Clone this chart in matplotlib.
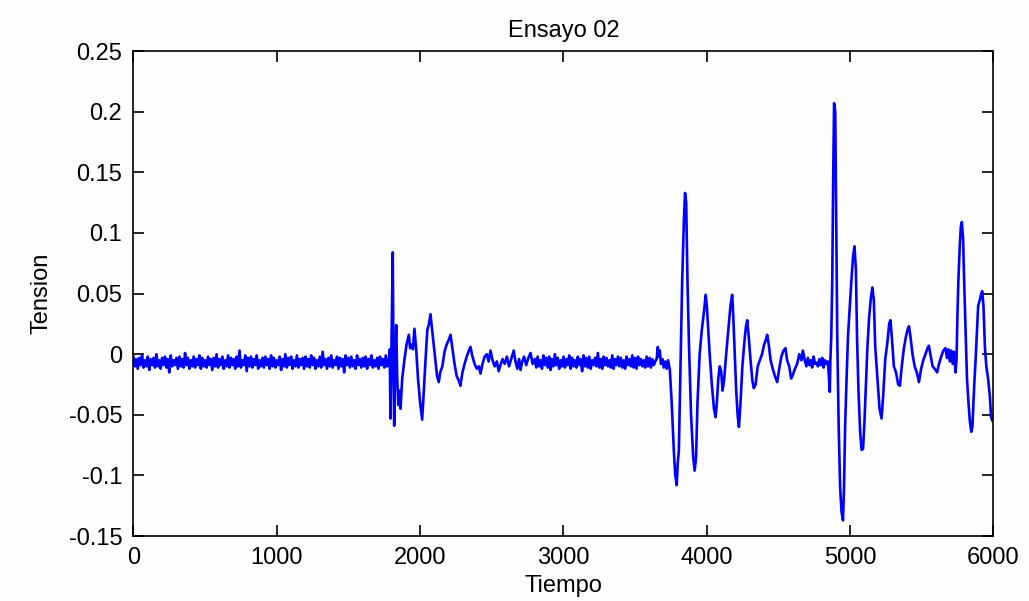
import matplotlib
matplotlib.use("Agg")
import matplotlib.pyplot as plt
import numpy as np

# Señal (valores en milésimas -> se dividen por 1000)
# Tramo de reposo inicial: una muestra cada 10 unidades de tiempo desde 0
ruido_1 = [-2, -10, -4, -12, -3, -9, -1, -11, -5, -10, -2, -13, -4, -9, -3, -11, 0, -10, -5, -12,
           -3, -9, -2, -11, -4, -15, -1, -10, -5, -9, -3, -12, -2, -10, -4, -11, 1, -9, -3, -12,
           -5, -10, -2, -11, -4, -9, -1, -12, -3, -10, -5, -11, -2, -9, -4, -13, -3, -10, 0, -11,
           -4, -9, -2, -12, -5, -10, -1, -11, -3, -9, -4, -12, -2, -10, 3, -11, -5, -9, -1, -14,
           -3, -10, -2, -11, -4, -9, -1, -12, -5, -10, -3, -11, -2, -9, -4, -12, -1, -10, -3, -11,
           -5, -9, -2, -13, -4, -10, 0, -11, -3, -9, -2, -12, -5, -10, -1, -11, -4, -9, -3, -12,
           -2, -10, -4, -11, -1, -9, -3, -12, -5, -10, -2, -11, 2, -9, -4, -12, -3, -10, -1, -11,
           -5, -9, -2, -12, -3, -10, -4, -15, -1, -9, -3, -11, -2, -10, -5, -12, -1, -9, -4, -11,
           -3, -10, -2, -12, -4, -9, -1, -11, -5, -10, -3, -12, -2, -9, -4, -11, -1, -10]

# Primer evento (tiempo, tension)
evento_1_t = [1781, 1788, 1793, 1800, 1809, 1814, 1819, 1826, 1833, 1840, 1848, 1856, 1863, 1875,
              1890, 1905, 1921, 1930, 1940, 1950, 1960, 1972, 1985, 2000, 2014, 2022, 2035, 2050,
              2062, 2072, 2080, 2092, 2105, 2118, 2130, 2140, 2155, 2170, 2185, 2200, 2212, 2225,
              2240, 2255, 2270, 2281, 2295, 2310, 2325, 2340, 2351, 2365, 2380, 2395, 2410, 2421,
              2435, 2450, 2465, 2478, 2491, 2505, 2520, 2535, 2548, 2560, 2575, 2590, 2605, 2620,
              2635, 2653, 2665, 2678, 2690, 2700, 2712, 2725, 2740, 2755, 2770, 2785]
evento_1_v = [-6, 4, -53, 9, 84, -10, -59, -5, 24, -20, -42, -30, -45, -20,
              -5, 8, 16, 5, 8, 4, 21, 5, -20, -40, -54, -38, -10, 20,
              25, 33, 24, 10, -5, -18, -23, -15, -10, 2, 8, 12, 16, 5,
              -8, -18, -22, -26, -15, -8, -2, 3, 6, -2, -8, -12, -10, -16,
              -8, -2, 0, -6, 3, -5, -10, -6, -14, -9, -4, -8, -2, -10,
              -4, 3, -6, -12, -4, -13, -6, -2, -9, -3, 1, -8]

# Reposo intermedio: una muestra cada 10 desde 2800
ruido_2 = [-4, -11, -2, -10, -5, -12, -1, -9, -3, -11, -2, -13, -4, -10, 0, -9, -3, -12, -5, -10,
           -2, -11, -4, -9, -1, -12, -3, -10, -5, -11, -2, -9, -4, -14, -1, -10, -3, -11, -2, -12,
           -5, -9, -3, -10, 1, -11, -4, -12, -2, -9, -3, -10, -5, -11, -1, -12, -4, -9, -2, -10,
           -3, -11, -5, -12, -2, -9, -4, -10, -1, -11, -3, -12, -2, -9, -4, -10, -5, -11, -2, -10,
           -3, -11, -4, -9, -6]

# Segundo evento
evento_2_t = [3650, 3658, 3665, 3672, 3680, 3690, 3700, 3710, 3720, 3730, 3742, 3755, 3770, 3780,
              3790, 3797, 3805, 3815, 3828, 3840, 3848, 3856, 3865, 3875, 3890, 3905, 3915, 3925,
              3935, 3950, 3965, 3980, 3992, 4000, 4010, 4020, 4035, 4050, 4061, 4070, 4080, 4090,
              4100, 4110, 4120, 4135, 4150, 4165, 4177, 4185, 4195, 4205, 4215, 4224, 4235, 4248,
              4262, 4272, 4282, 4292, 4305, 4318, 4328, 4340, 4355, 4370, 4385, 4400, 4412, 4421,
              4432, 4445, 4460, 4475, 4491, 4505, 4520, 4535, 4549, 4560, 4575, 4588, 4600, 4615,
              4630, 4645, 4660, 4670]
evento_2_v = [-4, 6, -2, 3, -8, -4, -11, -6, -12, -5, -13, -40, -80, -100,
              -108, -90, -79, -20, 60, 110, 133, 125, 61, 10, -50, -85, -96, -85,
              -40, 0, 20, 35, 49, 40, 20, 0, -25, -45, -52, -40, -20, -10,
              -14, -30, -22, 0, 20, 40, 49, 30, 0, -30, -50, -60, -40, -10,
              10, 22, 28, 15, -5, -22, -28, -25, -10, -5, 0, 8, 12, 16,
              8, -5, -12, -18, -23, -12, -2, 3, 5, -5, -10, -20, -17, -12,
              -8, 0, -5, 3]

# Reposo corto: una muestra cada 10 desde 4685
ruido_3 = [-6, -10, -3, -9, -5, -11, -2, -8, -7, -10, -4, -9, -3, -11, -5, -8, -6]

# Tercer evento
evento_3_t = [4858, 4862, 4868, 4875, 4882, 4888, 4896, 4903, 4910, 4920, 4930, 4940, 4950, 4957,
              4965, 4975, 4985, 4995, 5008, 5020, 5030, 5040, 5048, 5058, 5070, 5080, 5090, 5100,
              5110, 5120, 5132, 5145, 5155, 5165, 5175, 5190, 5205, 5219, 5230, 5245, 5260, 5272,
              5281, 5290, 5305, 5320, 5335, 5347, 5360, 5375, 5390, 5400, 5410, 5420, 5435, 5450,
              5465, 5480, 5495, 5510, 5525, 5540, 5549, 5560, 5575, 5590, 5607, 5620, 5635, 5650,
              5665, 5675, 5685, 5695, 5705, 5715, 5725, 5735, 5742, 5748, 5755, 5765, 5772, 5779,
              5788, 5795, 5805, 5815, 5825, 5835, 5845, 5853, 5860, 5868, 5875, 5885, 5893, 5905,
              5915, 5921, 5930, 5940, 5950, 5962, 5975, 5983, 5992, 6000]
evento_3_v = [-31, -5, 14, 60, 150, 207, 200, 108, 14, -60, -110, -130, -137, -110,
              -59, -20, 15, 34, 60, 80, 89, 70, 14, -30, -65, -79, -78, -55,
              -26, 5, 30, 47, 55, 45, 6, -20, -45, -53, -35, -4, 10, 25,
              28, 15, -10, -15, -25, -26, -10, 5, 15, 20, 23, 15, 0, -10,
              -15, -23, -12, -5, 0, 5, 7, 0, -10, -12, -15, -8, -2, 3,
              5, -3, 4, -6, 3, -8, 2, -15, -5, 30, 61, 90, 105, 109,
              95, 61, 20, -20, -39, -55, -64, -60, -40, -20, -5, 20, 40, 45,
              50, 52, 40, 6, -10, -20, -35, -52, -55, -52]

AZUL = "#0000FF"
FONDO = "#FCFDFC"

plt.rcParams.update({
    "font.family": "Liberation Sans",
    "font.size": 17,
    "figure.facecolor": FONDO,
    "axes.facecolor": FONDO,
})

t_r1 = np.arange(len(ruido_1)) * 10
t_r2 = 2800 + np.arange(len(ruido_2)) * 10
t_r3 = 4685 + np.arange(len(ruido_3)) * 10

tiempo = np.concatenate([t_r1, evento_1_t, t_r2, evento_2_t, t_r3, evento_3_t])
tension = np.concatenate([ruido_1, evento_1_v, ruido_2, evento_2_v, ruido_3, evento_3_v]) / 1000.0

fig = plt.figure(figsize=(10.29, 6.01), dpi=100)
ax = fig.add_axes([0.1297, 0.108, 0.8358, 0.807])
ax.plot(tiempo, tension, color=AZUL, linewidth=1.9)

ax.set_xlim(0, 6000)
ax.set_ylim(-0.15, 0.25)
ax.set_xticks(np.arange(0, 6001, 1000))
ax.set_yticks(np.arange(-0.15, 0.2501, 0.05))
ax.set_yticklabels(["-0.15", "-0.1", "-0.05", "0", "0.05", "0.1", "0.15", "0.2", "0.25"])
ax.tick_params(direction="in", length=8, width=1.2, top=True, right=True, pad=8)
for s in ax.spines.values():
    s.set_linewidth(1.2)

ax.set_title("Ensayo 02", fontsize=17, pad=10)
ax.set_xlabel("Tiempo", fontsize=17, labelpad=4)
ax.set_ylabel("Tension", fontsize=17, labelpad=12)

fig.savefig("out.png", dpi=100, facecolor=FONDO)
